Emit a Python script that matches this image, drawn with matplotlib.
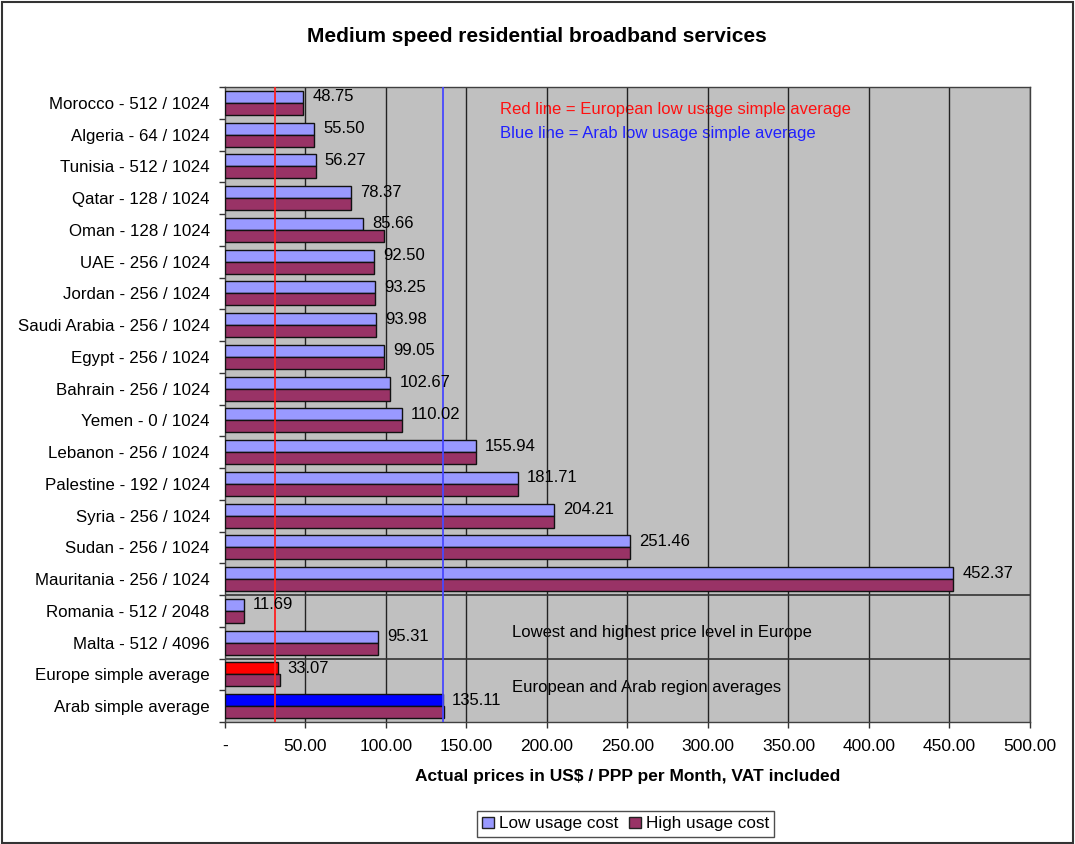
import matplotlib.pyplot as plt
from matplotlib.patches import Patch, Rectangle

plt.rcParams['font.family'] = ['Liberation Sans', 'DejaVu Sans']

countries = [
    'Morocco - 512 / 1024', 'Algeria - 64 / 1024', 'Tunisia - 512 / 1024',
    'Qatar - 128 / 1024', 'Oman - 128 / 1024', 'UAE - 256 / 1024',
    'Jordan - 256 / 1024', 'Saudi Arabia - 256 / 1024', 'Egypt - 256 / 1024',
    'Bahrain - 256 / 1024', 'Yemen - 0 / 1024', 'Lebanon - 256 / 1024',
    'Palestine - 192 / 1024', 'Syria - 256 / 1024', 'Sudan - 256 / 1024',
    'Mauritania - 256 / 1024', 'Romania - 512 / 2048', 'Malta - 512 / 4096',
    'Europe simple average', 'Arab simple average',
]
low_cost = [48.75, 55.50, 56.27, 78.37, 85.66, 92.50, 93.25, 93.98, 99.05,
            102.67, 110.02, 155.94, 181.71, 204.21, 251.46, 452.37, 11.69,
            95.31, 33.07, 135.11]
high_cost = [48.75, 55.50, 56.27, 78.37, 98.5, 92.50, 93.25, 93.98, 99.05,
             102.67, 110.02, 155.94, 181.71, 204.21, 251.46, 452.37, 11.69,
             95.31, 34.2, 136.2]
eu_low_avg = 31.0
arab_low_avg = 135.11
xticks = list(range(0, 501, 50))
xtick_labels = ['-'] + ['%.2f' % v for v in xticks[1:]]

fig = plt.figure(figsize=(10.75, 8.44), dpi=100)
ax = fig.add_axes([0.2093, 0.1445, 0.7488, 0.7524])
ax.set_facecolor('#C0C0C0')

pos = list(range(len(countries)))
h = 0.38
low_colors = ['#9999FF'] * 18 + ['#FF0000', '#0000FF']
ax.barh([p - h / 2 for p in pos], low_cost, height=h, color=low_colors,
        edgecolor='#111111', linewidth=1, zorder=3)
ax.barh([p + h / 2 for p in pos], high_cost, height=h, color='#993366',
        edgecolor='#111111', linewidth=1, zorder=3)

# value labels next to the low usage bars
for p, v in zip(pos, low_cost):
    ax.annotate('%.2f' % v, (v, p - h / 2), xytext=(6.5, 0),
                textcoords='offset points', va='center', ha='left',
                fontsize=12, zorder=5)

for v in xticks[1:]:
    ax.axvline(v, color='#222222', lw=1, zorder=2)
ax.axhline(15.5, color='#333333', lw=1.2, zorder=2)
ax.axhline(17.5, color='#333333', lw=1.2, zorder=2)

ax.axvline(eu_low_avg, color='#FF2020', lw=1.3, zorder=4)
ax.axvline(arab_low_avg, color='#4848FF', lw=1.3, zorder=4)

ax.text(171, 0.22, 'Red line = European low usage simple average',
        color='#FF1010', fontsize=12, va='center', zorder=1)
ax.text(171, 0.95, 'Blue line = Arab low usage simple average',
        color='#2020FF', fontsize=12, va='center', zorder=1)
ax.text(178, 16.67, 'Lowest and highest price level in Europe',
        fontsize=12, va='center', zorder=1)
ax.text(178, 18.4, 'European and Arab region averages',
        fontsize=12, va='center', zorder=1)

ax.set_xlim(0, 500)
ax.set_ylim(19.5, -0.5)
ax.set_yticks(pos)
ax.set_yticklabels(countries, fontsize=12.2)
ax.set_yticks([p - 0.5 for p in range(21)], minor=True)
ax.tick_params(axis='y', which='major', length=0, pad=11)
ax.tick_params(axis='y', which='minor', length=4, width=1, color='#333333')
ax.set_xticks(xticks)
ax.set_xticklabels(xtick_labels, fontsize=12.5)
ax.tick_params(axis='x', length=4, width=1, color='#333333', pad=8)
for s in ax.spines.values():
    s.set_color('#404040')
    s.set_linewidth(1)

ax.set_xlabel('Actual prices in US$ / PPP per Month, VAT included',
              fontsize=12.5, fontweight='bold')
ax.xaxis.set_label_coords(0.5, -(776 - 722) / 635)
ax.xaxis.label.set_va('center')

fig.text(0.4995, 0.957, 'Medium speed residential broadband services',
         ha='center', va='center', fontsize=15, fontweight='bold')

handles = [Patch(facecolor='#9999FF', edgecolor='#222222', label='Low usage cost'),
           Patch(facecolor='#993366', edgecolor='#222222', label='High usage cost')]
leg = fig.legend(handles=handles, loc='center', bbox_to_anchor=(0.582, 0.0237),
                 ncol=2, frameon=True, fancybox=False, edgecolor='#222222',
                 handlelength=0.7, handleheight=0.7, handletextpad=0.3,
                 columnspacing=0.6, borderpad=0.3, fontsize=12.3)
leg.get_frame().set_linewidth(1)

fig.add_artist(Rectangle((0.002, 0.001), 0.996, 0.997, transform=fig.transFigure,
                         fill=False, edgecolor='#333333', lw=1.5))

fig.savefig('out.png', dpi=100)
